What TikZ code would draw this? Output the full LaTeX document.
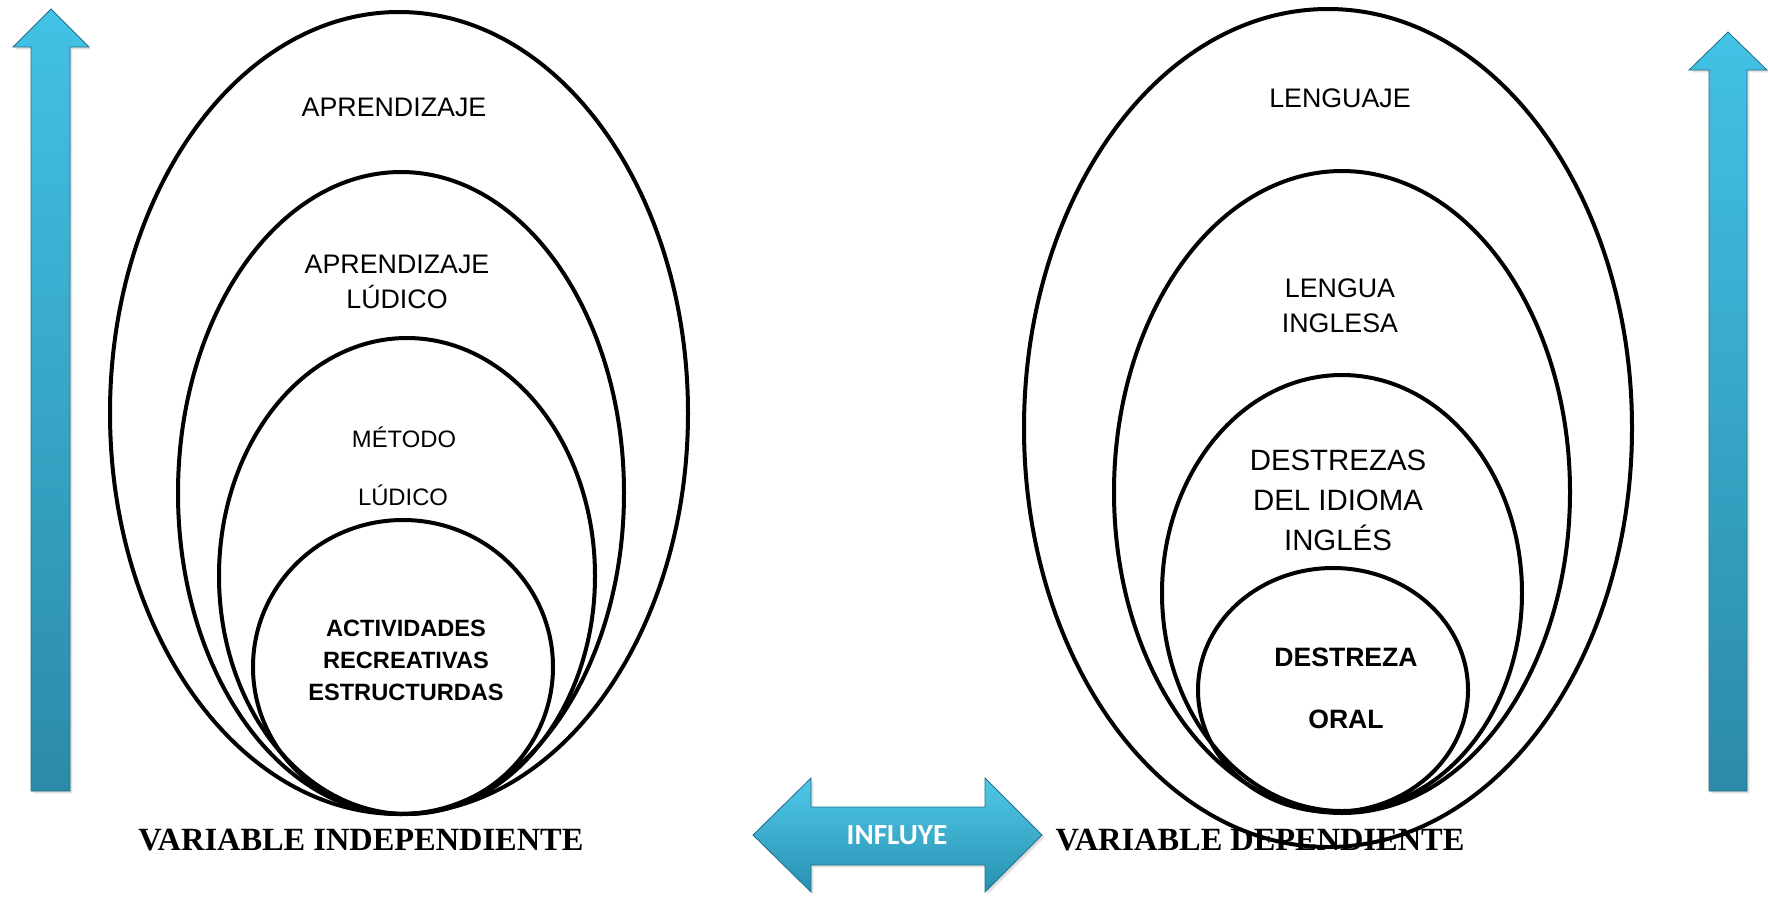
\documentclass[tikz,border=0pt]{standalone}
\usepackage{fontspec}
\setmainfont{Liberation Sans}
\newfontfamily\tnrfont{Liberation Serif}
\newfontfamily\calibfont{Carlito}
\usetikzlibrary{shadows}
\definecolor{arrowtop}{RGB}{66,194,230}
\definecolor{arrowbot}{RGB}{44,138,168}
\definecolor{harrtop}{RGB}{80,200,232}
\definecolor{harrbot}{RGB}{40,145,178}
\tikzset{
  ring/.style={draw=black, line width=2pt},
  blueshape/.style={top color=arrowtop, bottom color=arrowbot, draw=arrowbot!80!black, line width=0.4pt,
    drop shadow={opacity=0.25, shadow xshift=1.2pt, shadow yshift=-1.2pt}},
  lbl/.style={font=\fontsize{13.4}{17.5}\selectfont, align=center, inner sep=0pt},
  lblsmall/.style={font=\fontsize{11.9}{15}\selectfont, align=center, inner sep=0pt},
  lblbig/.style={font=\fontsize{14.7}{20}\selectfont, align=center, inner sep=0pt},
  lblbold/.style={font=\fontsize{11.8}{16}\selectfont\bfseries, align=center, inner sep=0pt},
  lblbold2/.style={font=\fontsize{13.3}{16}\selectfont\bfseries, align=center, inner sep=0pt},
  varlbl/.style={font=\fontsize{16.2}{18}\selectfont\tnrfont\bfseries, inner sep=0pt},
}
\begin{document}
\begin{tikzpicture}[x=0.5pt,y=-0.5pt]
\useasboundingbox (0,0) rectangle (1768,896);

% vertical arrows
\path[blueshape] (31,791) -- (31,47) -- (13,47) -- (51,9) -- (89,47) -- (70,47) -- (70,791) -- cycle;
\path[blueshape] (1709,791) -- (1709,70) -- (1689,70) -- (1728,32) -- (1767,70) -- (1747,70) -- (1747,791) -- cycle;

% influye arrow
\path[blueshape, top color=harrtop, bottom color=harrbot] (753,835) -- (811,778) -- (811,807) -- (985,807) -- (985,778) -- (1042,835)
  -- (985,892) -- (985,865) -- (811,865) -- (811,892) -- cycle;
\node[font=\fontsize{14.6}{16}\selectfont\calibfont\bfseries, text=white, inner sep=0pt] (influye) at (897,835) {INFLUYE};

% bottom labels
\node[varlbl] (vi) at (361,840) {VARIABLE INDEPENDIENTE};
\node[varlbl] (vd) at (1260,840) {VARIABLE DEPENDIENTE};

% left ellipses
\draw[ring] (399,413) ellipse [x radius=144.5pt, y radius=200.5pt];
\draw[ring] (401,493) ellipse [x radius=111.5pt, y radius=160.5pt];
\draw[ring] (407,576) ellipse [x radius=94pt, y radius=119pt];
\draw[ring] (403,667) ellipse [x radius=75pt, y radius=73.5pt];

% right ellipses
\draw[ring] (1328,428) ellipse [x radius=152pt, y radius=209.5pt];
\draw[ring] (1342,492) ellipse [x radius=114pt, y radius=160.5pt];
\draw[ring] (1342,593) ellipse [x radius=90pt, y radius=109pt];
\draw[ring] (1333,690) ellipse [x radius=67.5pt, y radius=61pt];

% left texts
\node[lbl] (apr) at (394,107) {APRENDIZAJE};
\node[lbl] (aprl) at (397,282) {APRENDIZAJE\\LÚDICO};
\node[lblsmall] (met) at (404,437) {MÉTODO};
\node[lblsmall] (metl) at (403,495) {LÚDICO};
\node[lblbold] (act) at (406,660) {ACTIVIDADES\\RECREATIVAS\\ESTRUCTURDAS};

% right texts
\node[lbl] (len) at (1340,98) {LENGUAJE};
\node[lbl] (lin) at (1340,306) {LENGUA\\INGLESA};
\node[lblbig] (des) at (1338,500) {DESTREZAS\\DEL IDIOMA\\INGLÉS};
\node[lblbold2] (dz) at (1346,657) {DESTREZA};
\node[lblbold2] (oral) at (1346,719) {ORAL};
\end{tikzpicture}
\end{document}
